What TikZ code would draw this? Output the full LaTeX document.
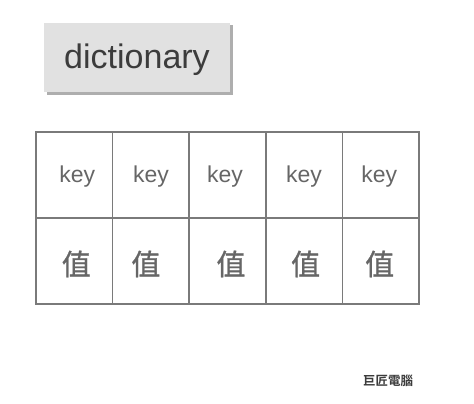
\documentclass[tikz,border=0pt]{standalone}
\usepackage{fontspec}
\setmainfont{Liberation Sans}
\newfontfamily\cjkfont[FakeBold=1]{Noto Sans CJK TC}
\newfontfamily\cjkbold{Noto Sans CJK TC Bold}
\usetikzlibrary{shadows}

\definecolor{gridgray}{HTML}{7A7A7A}
\definecolor{textgray}{HTML}{666666}
\definecolor{titlegray}{HTML}{3C3C3C}
\definecolor{boxgray}{HTML}{E1E1E1}

\tikzset{
  titlebox/.style={fill=boxgray, minimum width=186pt, minimum height=69pt,
    inner sep=0pt,
    drop shadow={shadow xshift=2.5pt, shadow yshift=-2.5pt, opacity=0.45, fill=black!70}},
  titletext/.style={text=titlegray, font=\fontsize{34}{38}\selectfont},
  cell/.style={draw=gridgray, line width=1.6pt, minimum width=76.6pt,
    minimum height=86pt, inner sep=0pt, outer sep=0pt},
  keytext/.style={text=textgray, font=\fontsize{23}{26}\selectfont},
  valtext/.style={text=textgray, font=\cjkfont\fontsize{29}{32}\selectfont},
}

\begin{document}
\begin{tikzpicture}[x=1pt,y=-1pt]
  \useasboundingbox (0,0) rectangle (474,404);

  % title
  \node[titlebox, label={[titletext, yshift=-2.5pt]center:dictionary}] (title) at (137,57.5) {};

  % key / value table
  \foreach \i/\kx/\vx in {1/3/2, 2/0/-5, 3/-2.5/3.5, 4/0/1.5, 5/-1.5/-1} {
    \node[cell, label={[keytext, xshift=\kx pt, yshift=-1.5pt]center:key}] (key\i) at ({36+76.6*(\i-0.5)},175) {};
    \node[cell, label={[valtext, xshift=\vx pt, yshift=-3pt]center:值}] (val\i) at ({36+76.6*(\i-0.5)},261) {};
  }

  % footer
  \node[text=titlegray, font=\cjkbold\fontsize{12.5}{14}\selectfont] (brand) at (388,381) {巨匠電腦};
\end{tikzpicture}
\end{document}
